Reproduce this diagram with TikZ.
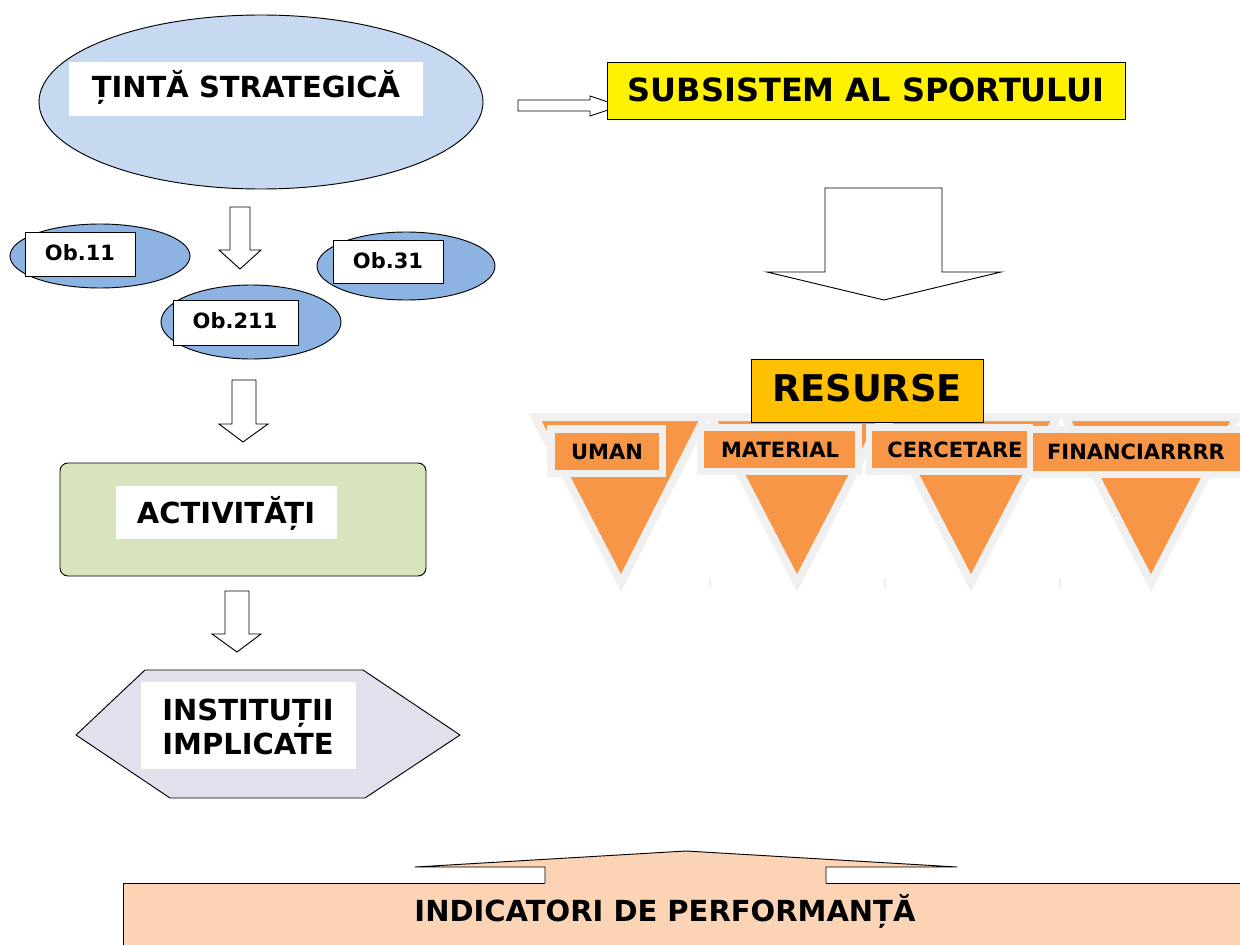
\documentclass[tikz,border=0pt]{standalone}
\usepackage{fontspec}
\setmainfont{DejaVu Sans}
\definecolor{ellA}{HTML}{C6D9F1}
\definecolor{ellB}{HTML}{8DB3E2}
\definecolor{resc}{HTML}{FFC000}
\definecolor{orng}{HTML}{F79646}
\definecolor{lgray}{HTML}{F0F0F0}
\definecolor{actc}{HTML}{D7E4BD}
\definecolor{hexc}{HTML}{E4DFEC}
\definecolor{peach}{HTML}{FAD4B5}
\begin{document}
\begin{tikzpicture}[x=0.75pt,y=-0.75pt,
  ln/.style={draw=black,line width=0.7pt},
  blk/.style={ln,fill=white,line join=miter},
  big/.style={font=\bfseries\fontsize{21.75}{24}\selectfont, anchor=base, inner sep=0pt},
  sm/.style={font=\bfseries\fontsize{15.75}{18}\selectfont, anchor=base, inner sep=0pt},
  tri/.style={fill=orng,draw=lgray,line width=6pt,line join=miter},
  tag/.style={fill=lgray},
]
\useasboundingbox (0,0) rectangle (1240,945);
\fill[white] (0,0) rectangle (1240,945);

% --- strategic target
\draw[ln,fill=ellA] (261,102) ellipse [x radius=222, y radius=87];
\fill[white] (69,62) rectangle (423,116);
\node[big] (tinta) at (246,97.5) {ȚINTĂ STRATEGICĂ};

% --- right block arrow
\draw[blk] (518,100) -- (590,100) -- (590,96) -- (620,106) -- (590,116) -- (590,111) -- (518,111) -- cycle;

% --- subsistem
\draw[ln,fill=yellow] (607,62) rectangle (1125,119);
\node[big,font=\bfseries\fontsize{24}{27}\selectfont] (subs) at (866,102) {SUBSISTEM AL SPORTULUI};

% --- big down arrow
\draw[blk] (825,188) -- (942,188) -- (942,272) -- (1001,272) -- (884,300) -- (767,272) -- (825,272) -- cycle;

% --- objectives
\draw[ln,fill=ellB] (100,256) ellipse [x radius=90, y radius=32];
\draw[ln,fill=white] (25,232) rectangle (135,276);
\node[sm] (ob11) at (80,261) {Ob.11};

\draw[ln,fill=ellB] (406,266) ellipse [x radius=89, y radius=34];
\draw[ln,fill=white] (333,240) rectangle (443,283);
\node[sm] (ob31) at (388,269) {Ob.31};

\draw[ln,fill=ellB] (251,322) ellipse [x radius=90, y radius=37];
\draw[ln,fill=white] (173,300) rectangle (298,345);
\node[sm] (ob211) at (235,329) {Ob.211};

% --- small down arrows
\draw[blk] (230,207) -- (250,207) -- (250,250) -- (261,250) -- (240,269) -- (219,250) -- (230,250) -- cycle;
\draw[blk] (232,380) -- (256,380) -- (256,424) -- (268,424) -- (243,442) -- (219,424) -- (232,424) -- cycle;
\draw[blk] (225,591) -- (249,591) -- (249,634) -- (261,634) -- (237,652) -- (212,634) -- (225,634) -- cycle;

% --- activities
\draw[ln,fill=actc,rounded corners=6pt] (60,463) rectangle (426,576);
\fill[white] (116,486) rectangle (337,539);
\node[big] (activ) at (226,523) {ACTIVITĂȚI};

% --- institutions
\draw[ln,fill=hexc] (145,670) -- (363,670) -- (460,735) -- (365,798) -- (170,798) -- (76,735) -- cycle;
\fill[white] (141,682) rectangle (356,769);
\node[big] (inst1) at (248,720) {INSTITUȚII};
\node[big] (inst2) at (248,754) {IMPLICATE};

% --- resources triangles
\draw[tri] (535,417) -- (705,417) -- (621,583) -- cycle;
\draw[tri] (711,417) -- (883,417) -- (797,583) -- cycle;
\draw[tri] (885,417) -- (1057,417) -- (971,583) -- cycle;
\draw[tri] (1065,417) -- (1237,417) -- (1151,583) -- cycle;
\foreach \xx in {710,885,1060} \draw[lgray,line width=1pt] (\xx,578) -- (\xx,588);

\fill[tag] (547,425) rectangle (666,477);
\fill[orng] (555,433) rectangle (659,470);
\node[sm] (uman) at (607,459) {UMAN};

\fill[tag] (697,424) rectangle (862,475);
\fill[orng] (704,431) rectangle (855,468);
\node[sm] (mat) at (780,457) {MATERIAL};

\fill[tag] (866,424) rectangle (1033,475);
\fill[orng] (872,431) rectangle (1030,468);
\node[sm] (cerc) at (955,457) {CERCETARE};

\fill[tag] (1027,426) rectangle (1240,478);
\fill[orng] (1033,433) rectangle (1240,471);
\node[sm] (fin) at (1136,459) {FINANCIARRRR};

\draw[ln,fill=resc] (751,359) rectangle (983,422);
\node[big,font=\bfseries\fontsize{27.6}{30}\selectfont] (res) at (867,402) {RESURSE};

% --- indicators
\fill[peach] (123,883) rectangle (1245,950);
\draw[ln,fill=peach] (545,883) -- (545,867) -- (415,867) -- (686,851) -- (957,867) -- (826,867) -- (826,883);
\draw[ln] (123,950) -- (123,883) -- (545,883);
\draw[ln] (826,883) -- (1245,883);
\node[big] (indic) at (665,921) {INDICATORI DE PERFORMANȚĂ};
\end{tikzpicture}
\end{document}
